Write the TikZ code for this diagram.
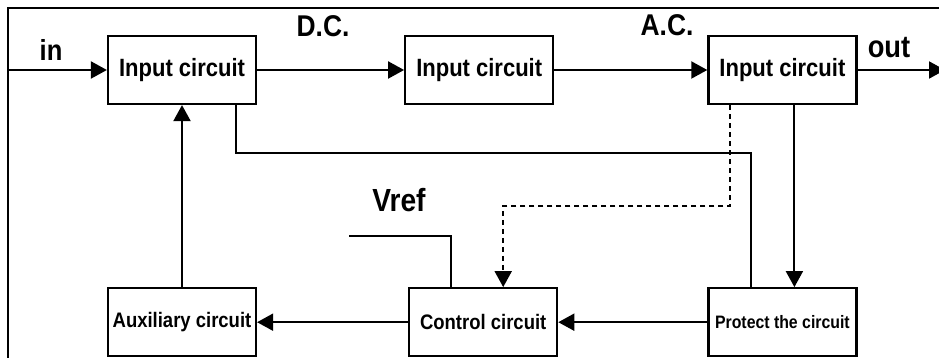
\documentclass[tikz,border=0pt]{standalone}
\usepackage{fontspec}
\setmainfont[FakeStretch=0.88]{Liberation Sans}
\usetikzlibrary{positioning,arrows.meta}
\tikzset{
  blk/.style={rectangle, draw, line width=2.2pt, fill=white, align=center,
              inner sep=2pt, minimum width=148pt, minimum height=68pt,
              font=\bfseries\fontsize{#1}{#1}\selectfont},
  blk/.default=25,
  ar/.style={-{Triangle[length=16pt,width=17pt]}, line width=2pt},
  ln/.style={line width=2pt},
  dsh/.style={ar, dash pattern=on 5pt off 4pt},
  lbl/.style={font=\bfseries\fontsize{#1}{#1}\selectfont, inner sep=0pt},
}

\begin{document}
\begin{tikzpicture}[x=1pt, y=1pt]
  \useasboundingbox (0,0) rectangle (939,-358);
  \draw[ln] (939,-8) -- (8,-8) -- (8,-358);

  \node[blk] (in1) at (182,-70) {Input circuit};
  \node[blk, right=147pt of in1] (in2) {Input circuit};
  \node[blk, right=153pt of in2] (in3) {Input circuit};
  \node[blk=21, below=182pt of in1] (aux) {Auxiliary circuit};
  \node[blk=21, right=151pt of aux] (ctrl) {Control circuit};
  \node[blk=18, right=149pt of ctrl] (prot) {Protect the circuit};

  \node[lbl=29] (lin) at (51,-50) {in};
  \node[lbl=30] (ldc) at (323,-26) {D.C.};
  \node[lbl=30] (lac) at (667,-25) {A.C.};
  \node[lbl=31] (lout) at (889,-48) {out};
  \node[lbl=32] (lvref) at (399,-200) {Vref};

  \coordinate (src) at (8,-70);
  \coordinate (dst) at (945,-70);
  \coordinate (vr) at (349,-236);

  \draw[ar] (src) -- (in1.west);
  \draw[ar] (in1) -- (in2);
  \draw[ar] (in2) -- (in3);
  \draw[ar] (in3.east) -- (dst);
  \draw[ar] (aux.north) -- (aux.north |- in1.south);
  \draw[ln] ([xshift=54pt]in1.south) -- ++(0,-48) -| ([xshift=-31pt]prot.north);
  \draw[ar] ([xshift=12pt]in3.south) -- ([xshift=12pt]in3.south |- prot.north);
  \draw[dsh] ([xshift=-52pt]in3.south) -- ++(0,-101) -| ([xshift=20pt]ctrl.north);
  \draw[ln] (vr) -| ([xshift=-32pt]ctrl.north);
  \draw[ar] (prot) -- (ctrl);
  \draw[ar] (ctrl) -- (aux);
\end{tikzpicture}
\end{document}
